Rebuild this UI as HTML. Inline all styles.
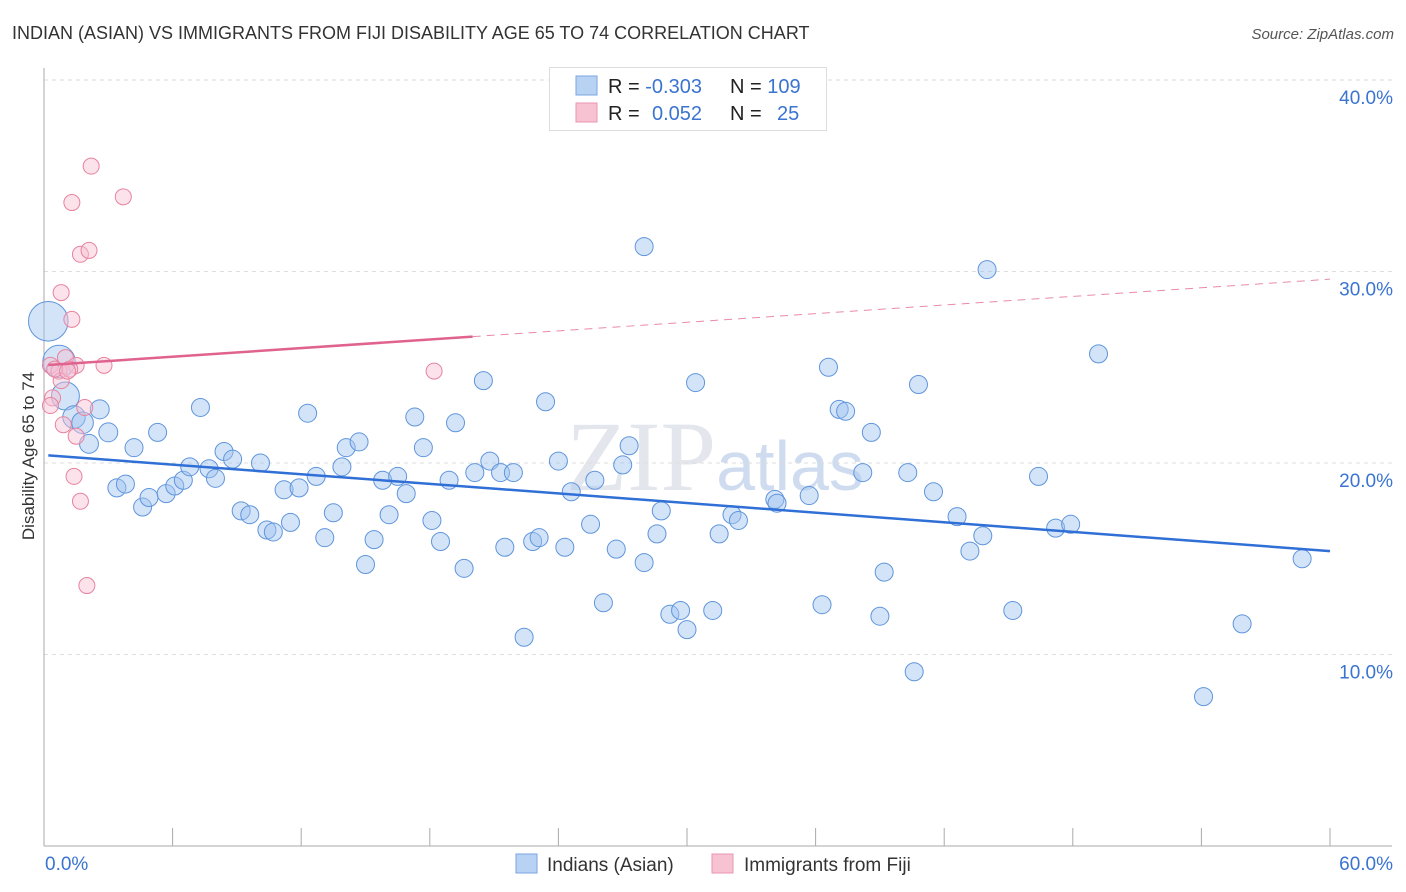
<!DOCTYPE html>
<html><head><meta charset="utf-8"><style>
body{margin:0;background:#fff;font-family:"Liberation Sans",sans-serif;}
svg{display:block}
</style></head><body>
<svg id="chart" width="1406" height="892" xmlns="http://www.w3.org/2000/svg">
<text x="12" y="39" font-size="18" fill="#333">INDIAN (ASIAN) VS IMMIGRANTS FROM FIJI DISABILITY AGE 65 TO 74 CORRELATION CHART</text>
<text x="1394" y="39" font-size="15" fill="#555" font-style="italic" text-anchor="end">Source: ZipAtlas.com</text>
<text x="715" y="490" font-size="100" fill="#e3e6ec" text-anchor="middle" font-family="Liberation Serif,serif">ZIP<tspan fill="#cfdcf0" font-family="Liberation Sans,sans-serif" font-size="70">atlas</tspan></text>
<g id="grid"></g>
<g id="axes"></g>
<g id="marks"></g>
<text x="34" y="456" font-size="17" fill="#333" text-anchor="middle" transform="rotate(-90 34 456)">Disability Age 65 to 74</text>
<g>
<rect x="549.5" y="67.5" width="277" height="63" fill="#fff" stroke="#ddd"/>
<rect x="576" y="76" width="21" height="19" fill="#b8d2f4" stroke="#7aa6e0"/>
<rect x="576" y="103" width="21" height="19" fill="#f7c3d3" stroke="#eb94b0"/>
<text x="608" y="93" font-size="20" fill="#222">R = <tspan fill="#3a74d0">-0.303</tspan></text>
<text x="730" y="93" font-size="20" fill="#222">N = <tspan fill="#3a74d0">109</tspan></text>
<text x="608" y="120" font-size="20" fill="#222">R = <tspan fill="#3a74d0" x="652">0.052</tspan></text>
<text x="730" y="120" font-size="20" fill="#222">N = <tspan fill="#3a74d0" x="777">25</tspan></text>
</g>
<g>
<rect x="516" y="854" width="21" height="19" fill="#b8d2f4" stroke="#7aa6e0"/>
<text x="547" y="871" font-size="19" fill="#333">Indians (Asian)</text>
<rect x="712" y="854" width="21" height="19" fill="#f7c3d3" stroke="#eb94b0"/>
<text x="744" y="871" font-size="19" fill="#333">Immigrants from Fiji</text>
</g>
</svg>
<script>
const blueX=[0.2,0.7,1.0,1.4,1.8,2.1,2.6,3.0,3.4,3.8,4.2,4.6,4.9,5.3,5.7,6.1,6.5,6.8,7.3,7.7,8.0,8.4,8.8,9.2,9.6,10.1,10.4,10.7,11.2,11.5,11.9,12.3,12.7,13.1,13.5,13.9,14.1,14.7,15.0,15.4,15.8,16.1,16.5,16.9,17.3,17.7,18.1,18.5,18.9,19.2,19.6,20.1,20.5,20.8,21.3,21.5,21.9,22.4,22.8,23.1,23.4,24.0,24.3,24.6,25.5,25.7,26.1,26.7,27.0,27.3,28.0,28.0,28.6,28.8,29.2,29.7,30.0,30.4,31.2,31.5,32.1,32.4,34.1,34.2,35.7,36.3,36.6,37.1,37.4,38.2,38.6,39.0,39.2,40.3,40.6,40.8,41.5,42.6,43.2,43.8,44.0,45.2,46.4,47.2,47.9,49.2,54.1,55.9,58.7];
const blueY=[27.4,25.3,23.5,22.4,22.1,21.0,22.8,21.6,18.7,18.9,20.8,17.7,18.2,21.6,18.4,18.8,19.1,19.8,22.9,19.7,19.2,20.6,20.2,17.5,17.3,20.0,16.5,16.4,18.6,16.9,18.7,22.6,19.3,16.1,17.4,19.8,20.8,21.1,14.7,16.0,19.1,17.3,19.3,18.4,22.4,20.8,17.0,15.9,19.1,22.1,14.5,19.5,24.3,20.1,19.5,15.6,19.5,10.9,15.9,16.1,23.2,20.1,15.6,18.5,16.8,19.1,12.7,15.5,19.9,20.9,31.3,14.8,16.3,17.5,12.1,12.3,11.3,24.2,12.3,16.3,17.3,17.0,18.1,17.9,18.3,12.6,25.0,22.8,22.7,19.5,21.6,12.0,14.3,19.5,9.1,24.1,18.5,17.2,15.4,16.2,30.1,12.3,19.3,16.6,16.8,25.7,7.8,11.6,15.0];
const blueSize=[2.2,1.8,1.55,1.25,1.2,1.05,1.05,1.05];
const pinkX=[2.2,1.3,3.7,1.7,2.1,0.8,1.3,1.0,1.5,0.3,0.7,0.8,0.4,0.3,1.9,0.9,1.5,1.4,1.7,2.0,18.2,2.8,1.2,0.5,1.1];
const pinkY=[35.5,33.6,33.9,30.9,31.1,28.9,27.5,25.5,25.1,25.1,24.8,24.3,23.4,23.0,22.9,22.0,21.4,19.3,18.0,13.6,24.8,25.1,24.9,24.9,24.8];
const blueTrend=[20.4,15.4];
const pinkTrend=[25.1,29.6];
const pinkSolidEnd=20.0;
const yTicks=[10,20,30,40];
const xTickVals=[0,6,12,18,24,30,36,42,48,54,60];

const X0=44,X1=1330,Y0=846,Y40=80;
const sx=v=>X0+(X1-X0)*v/60;
const sy=v=>Y0-(Y0-Y40)*v/40;
const NS="http://www.w3.org/2000/svg";
function mk(tag,attrs,parent){const e=document.createElementNS(NS,tag);for(const k in attrs)e.setAttribute(k,attrs[k]);parent.appendChild(e);return e;}
const grid=document.getElementById('grid'),axes=document.getElementById('axes'),marks=document.getElementById('marks');
yTicks.forEach(t=>{
  const l=mk('line',{x1:X0,x2:1392,y1:sy(t),y2:sy(t),stroke:'#ddd','stroke-dasharray':'4 4'},grid);
  
  
  const tx=mk('text',{x:1393,y:sy(t)+24,'font-size':19,fill:'#3a74d0','text-anchor':'end'},axes);
  tx.textContent=t.toFixed(1)+'%';
  
  
});
const la=mk('line',{x1:X0,x2:X0,y1:68,y2:Y0,stroke:'#aaa'},axes);


const lb=mk('line',{x1:X0,x2:1392,y1:Y0,y2:Y0,stroke:'#aaa'},axes);


xTickVals.forEach(t=>{
  const tk=mk('line',{x1:sx(t),x2:sx(t),y1:828,y2:Y0,stroke:'#aaa'},axes);
  
  
});
[[0,'start',45],[60,'end',1393]].forEach(a=>{
  const tx=mk('text',{x:a[2],y:870,'font-size':19,fill:'#3a74d0','text-anchor':a[1]},axes);
  tx.textContent=a[0].toFixed(1)+'%';
  
  
});
blueX.forEach((x,i)=>{
  const r=9*(blueSize[i]||1);
  const c=mk('circle',{cx:sx(x),cy:sy(blueY[i]),r:r,fill:'rgba(160,196,240,0.45)',stroke:'#5f95dc','stroke-width':1},marks);
  
  
});
pinkX.forEach((x,i)=>{
  const c=mk('circle',{cx:sx(x),cy:sy(pinkY[i]),r:8,fill:'rgba(247,190,210,0.45)',stroke:'#e8839f','stroke-width':1},marks);
  
  
});
const bt=mk('line',{x1:sx(0.2),y1:sy(blueTrend[0]),x2:sx(60),y2:sy(blueTrend[1]),stroke:'#2f6fd6','stroke-width':2.5},marks);


const pAt=x=>pinkTrend[0]+(pinkTrend[1]-pinkTrend[0])*x/60;
const ps=mk('line',{x1:sx(0.2),y1:sy(pAt(0.2)),x2:sx(pinkSolidEnd),y2:sy(pAt(pinkSolidEnd)),stroke:'#e0628e','stroke-width':2.5},marks);


const pd=mk('line',{x1:sx(pinkSolidEnd),y1:sy(pAt(pinkSolidEnd)),x2:sx(60),y2:sy(pinkTrend[1]),stroke:'#e88aaa','stroke-width':1,'stroke-dasharray':'8 6'},marks);


</script>
</body></html>
